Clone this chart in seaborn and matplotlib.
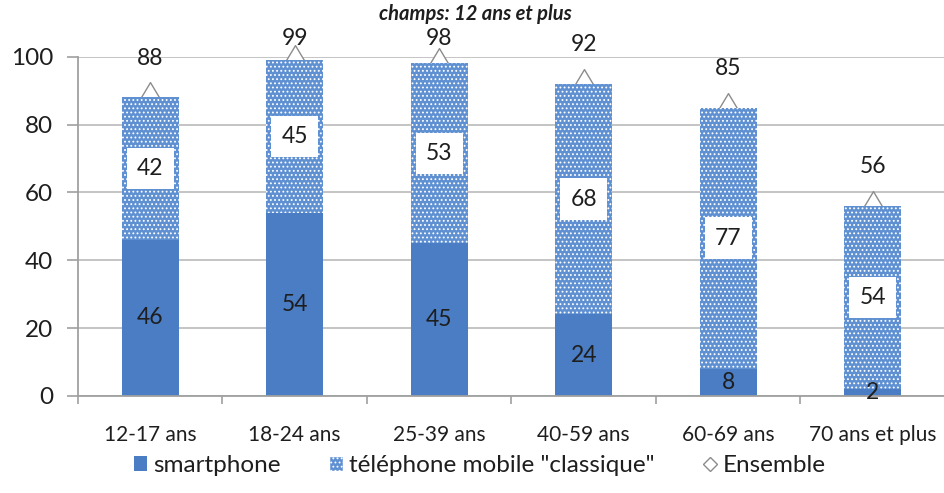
import numpy as np
import pandas as pd
import matplotlib
matplotlib.use("Agg")
import matplotlib.pyplot as plt
import seaborn as sns
from matplotlib.patches import Patch
from matplotlib.lines import Line2D

# Equipment rate in mobile phones by age group (%)
age_groups = ["12-17 ans", "18-24 ans", "25-39 ans", "40-59 ans", "60-69 ans", "70 ans et plus"]
smartphone = [46, 54, 45, 24, 8, 2]
classique = [42, 45, 53, 68, 77, 54]
ensemble = [88, 99, 98, 92, 85, 56]
y_ticks = [0, 20, 40, 60, 80, 100]

sns.set_theme(style="white")
plt.rcParams["font.family"] = ["Lato", "DejaVu Sans"]
plt.rcParams["hatch.linewidth"] = 0.8

dark_blue = "#4a7dc3"
light_blue = "#5f90d2"
grid_grey = "#c4c4c4"
axis_grey = "#a0a0a0"
text_col = "#1e1e1e"

df = pd.DataFrame({
    "age": age_groups,
    "smartphone": smartphone,
    "classique": classique,
    "ensemble": ensemble,
})
df["stack_top"] = df["smartphone"] + df["classique"]

fig = plt.figure(figsize=(9.45, 4.93), dpi=100)
ax = fig.add_axes([0.0825, 0.197, 0.9175, 0.688])

x = np.arange(len(age_groups))

# "Ensemble" markers sit at the top of each stack, partly hidden by the bars
sns.scatterplot(x=x, y=df["ensemble"], marker="d", s=230, color="white",
                edgecolor="#8c8c8c", linewidth=1.0, zorder=1.5, ax=ax, clip_on=False,
                legend=False)

# upper segment ("classique") drawn as full stack, lower segment laid over it
sns.barplot(data=df, x="age", y="stack_top", color=light_blue, width=0.395,
            edgecolor="white", linewidth=0, hatch="....", saturation=1, ax=ax, zorder=2)
sns.barplot(data=df, x="age", y="smartphone", color=dark_blue, width=0.395,
            linewidth=0, saturation=1, ax=ax, zorder=2)

for i, row in df.iterrows():
    ax.text(i, row["smartphone"] / 2, f"{row['smartphone']}", ha="center", va="center",
            fontsize=16.5, color=text_col, zorder=6)
    ax.text(i, row["smartphone"] + row["classique"] / 2, f"{row['classique']}",
            ha="center", va="center", fontsize=16.5, color=text_col, zorder=6,
            bbox=dict(boxstyle="square,pad=0.45", fc="white", ec="none"))
    ax.text(i, min(row["ensemble"] + 11.5, 105.5), f"{row['ensemble']}", ha="center",
            va="center", fontsize=16.5, color=text_col, zorder=6, clip_on=False)

ax.set_ylim(0, 100)
ax.set_xlim(-0.5, len(age_groups) - 0.5)
ax.set_yticks(y_ticks)
ax.set_yticklabels([str(v) for v in y_ticks], fontsize=17.5, color=text_col)
ax.set_xticks(x)
ax.set_xticklabels(age_groups, fontsize=15, color=text_col)
ax.tick_params(axis="x", length=0, pad=21)
ax.tick_params(axis="y", length=8, width=1.2, color=axis_grey, direction="out", pad=10, left=True)
ax.set_xticks(np.arange(-0.5, len(age_groups)), minor=True)
ax.tick_params(axis="x", which="minor", length=6, width=1.2, color=axis_grey, direction="out", bottom=True)
ax.set_xlabel("")
ax.set_ylabel("")

ax.yaxis.grid(True, color=grid_grey, linewidth=1.4)
ax.set_axisbelow(True)
for side in ["top", "right"]:
    ax.spines[side].set_visible(False)
for side in ["left", "bottom"]:
    ax.spines[side].set_color(axis_grey)
    ax.spines[side].set_linewidth(1.3)

fig.text(0.503, 0.972, "champs: 12 ans et plus", ha="center", va="center",
         fontsize=14.5, fontweight="bold", fontstyle="italic", color=text_col)

handles = [
    Patch(facecolor=dark_blue, edgecolor="none", label="smartphone"),
    Patch(facecolor=light_blue, edgecolor="white", hatch="....", label='téléphone mobile "classique"'),
    Line2D([], [], marker="D", linestyle="none", markersize=7, markerfacecolor="white",
           markeredgecolor="#8c8c8c", label="Ensemble"),
]
fig.legend(handles=handles, loc="center left", bbox_to_anchor=(0.1185, 0.056), ncol=3,
           frameon=False, fontsize=17.5, handlelength=0.55, handletextpad=0.25,
           columnspacing=2.0, handleheight=0.55, labelcolor=text_col)

fig.savefig("out.png", dpi=100, facecolor="white")
